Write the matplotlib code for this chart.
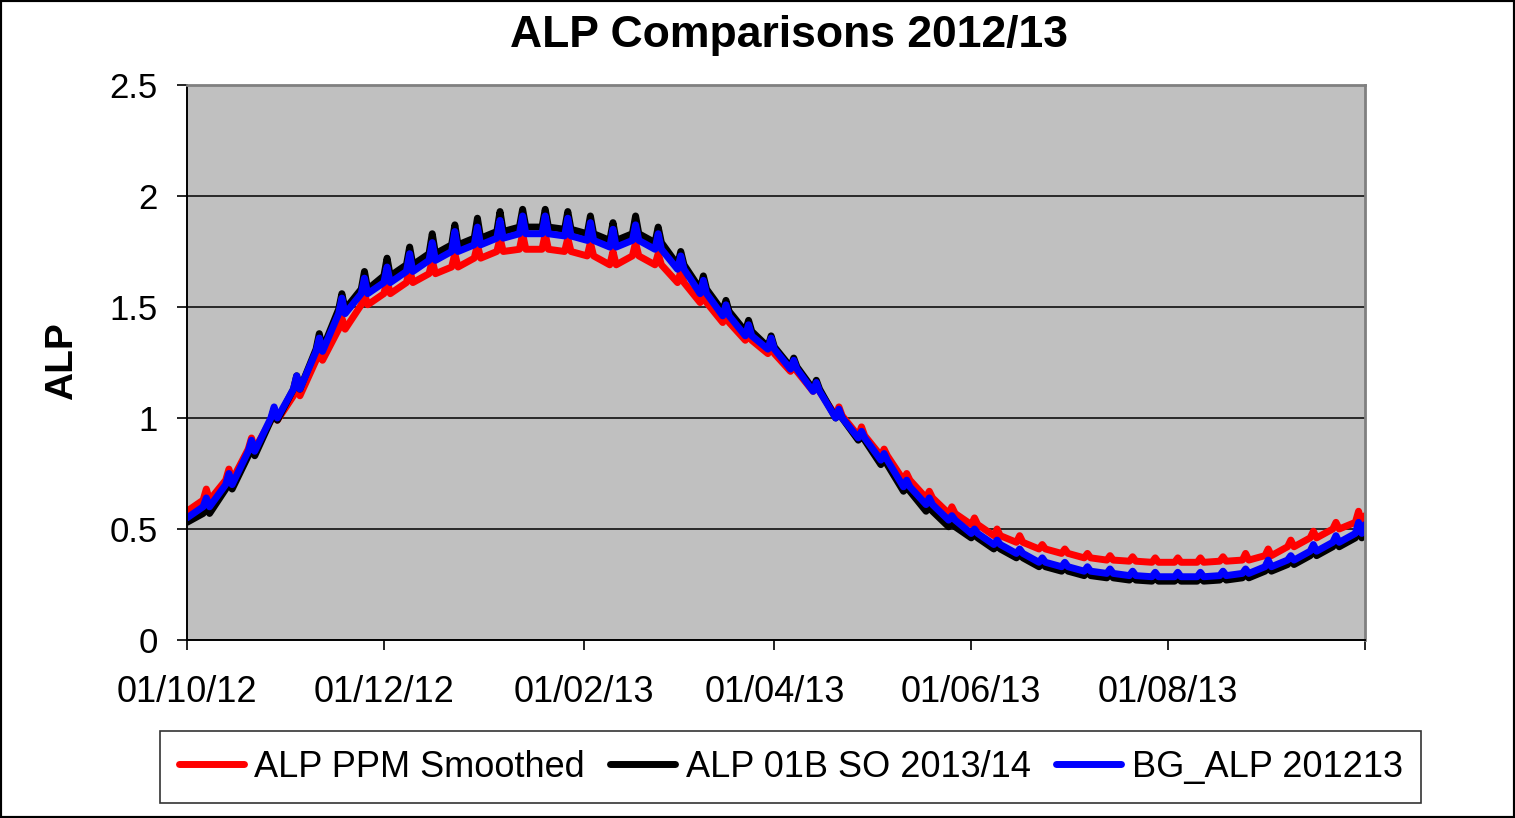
import numpy as np
import pandas as pd
import matplotlib
matplotlib.use("Agg")
import matplotlib.pyplot as plt
from matplotlib.patches import Rectangle

plt.rcParams['font.family'] = ['Liberation Sans', 'DejaVu Sans']

# weekly cycle: base value, then a one-day spike (weekend effect)
week_starts = pd.date_range('2012-10-06', periods=52, freq='7D')
first_day = pd.Timestamp('2012-10-01')
last_day = pd.Timestamp('2013-10-01')

red_base = [0.63, 0.72, 0.86, 0.99, 1.10, 1.26, 1.40, 1.51, 1.56, 1.61,
            1.65, 1.68, 1.72, 1.75, 1.76, 1.76, 1.75, 1.73, 1.69, 1.73,
            1.69, 1.61, 1.52, 1.43, 1.35, 1.29, 1.21, 1.12, 1.01, 0.92,
            0.83, 0.72, 0.64, 0.57, 0.52, 0.47, 0.44, 0.41, 0.39, 0.37,
            0.36, 0.355, 0.35, 0.35, 0.35, 0.355, 0.36, 0.38, 0.42, 0.46,
            0.50, 0.53]
black_base = [0.57, 0.68, 0.83, 0.99, 1.13, 1.31, 1.49, 1.58, 1.64, 1.69,
              1.74, 1.78, 1.81, 1.84, 1.86, 1.86, 1.85, 1.83, 1.80, 1.83,
              1.79, 1.69, 1.58, 1.48, 1.39, 1.32, 1.23, 1.13, 1.00, 0.90,
              0.79, 0.67, 0.58, 0.51, 0.46, 0.41, 0.37, 0.33, 0.31, 0.29,
              0.28, 0.27, 0.265, 0.265, 0.265, 0.27, 0.28, 0.31, 0.34, 0.38,
              0.42, 0.46]
blue_base = [0.60, 0.70, 0.85, 1.00, 1.13, 1.30, 1.47, 1.56, 1.61, 1.66,
             1.71, 1.75, 1.78, 1.81, 1.83, 1.83, 1.82, 1.80, 1.77, 1.80,
             1.76, 1.67, 1.56, 1.46, 1.37, 1.31, 1.22, 1.12, 1.00, 0.91,
             0.81, 0.69, 0.61, 0.54, 0.48, 0.43, 0.39, 0.35, 0.33, 0.31,
             0.30, 0.29, 0.285, 0.285, 0.285, 0.29, 0.30, 0.33, 0.36, 0.40,
             0.44, 0.48]

red_spike = [0.05, 0.05, 0.05, 0.05, 0.05, 0.05, 0.05, 0.05, 0.06, 0.06,
             0.06, 0.06, 0.06, 0.06, 0.07, 0.07, 0.06, 0.06, 0.06, 0.06,
             0.05, 0.05, 0.05, 0.04, 0.04, 0.04, 0.04, 0.04, 0.04, 0.04,
             0.03, 0.03, 0.03, 0.03, 0.03, 0.03, 0.03, 0.02, 0.02, 0.02,
             0.02, 0.02, 0.02, 0.02, 0.02, 0.02, 0.03, 0.03, 0.03, 0.03,
             0.03, 0.05]
black_spike = [0.03, 0.04, 0.04, 0.05, 0.06, 0.07, 0.07, 0.08, 0.08, 0.08,
               0.09, 0.09, 0.09, 0.09, 0.08, 0.08, 0.08, 0.08, 0.08, 0.08,
               0.07, 0.06, 0.06, 0.05, 0.05, 0.05, 0.04, 0.04, 0.03, 0.03,
               0.03, 0.02, 0.02, 0.02, 0.02, 0.02, 0.02, 0.02, 0.02, 0.02,
               0.02, 0.02, 0.02, 0.02, 0.02, 0.02, 0.02, 0.02, 0.02, 0.03,
               0.03, 0.05]
blue_spike = [0.04, 0.05, 0.05, 0.05, 0.06, 0.06, 0.07, 0.07, 0.07, 0.08,
              0.08, 0.09, 0.08, 0.08, 0.08, 0.08, 0.08, 0.08, 0.08, 0.07,
              0.07, 0.06, 0.06, 0.05, 0.05, 0.05, 0.04, 0.04, 0.04, 0.03,
              0.03, 0.03, 0.03, 0.02, 0.02, 0.02, 0.02, 0.02, 0.02, 0.02,
              0.02, 0.02, 0.02, 0.02, 0.02, 0.02, 0.02, 0.03, 0.02, 0.03,
              0.03, 0.05]

# values at the very first and last day
red_ends = (0.58, 0.56)
black_ends = (0.53, 0.51)
blue_ends = (0.55, 0.52)

names = ["ALP PPM Smoothed", "ALP 01B SO 2013/14", "BG_ALP 201213"]
colors = ["#FF0000", "#000000", "#0000FF"]

tick_dates = ['2012-10-01', '2012-12-01', '2013-02-01', '2013-04-01',
              '2013-06-01', '2013-08-01', '2013-10-01']
tick_labels = ['01/10/12', '01/12/12', '01/02/13', '01/04/13',
               '01/06/13', '01/08/13', '']


def build_series(base, spike, ends):
    xs = [first_day]
    ys = [ends[0]]
    for d, b, s in zip(week_starts, base, spike):
        xs += [d, d + pd.Timedelta(days=1), d + pd.Timedelta(days=2)]
        ys += [b, b + s, b]
    xs.append(last_day)
    ys.append(ends[1])
    return xs, ys


fig = plt.figure(figsize=(15.15, 8.18), dpi=100)
ax = fig.add_axes([0.1234, 0.2176, 0.7776, 0.6785])
ax.set_facecolor('#C0C0C0')

series = [(red_base, red_spike, red_ends),
          (black_base, black_spike, black_ends),
          (blue_base, blue_spike, blue_ends)]
handles = []
for (b, s, e), name, c in zip(series, names, colors):
    xs, ys = build_series(b, s, e)
    h, = ax.plot(xs, ys, color=c, lw=5, solid_joinstyle='round',
                 solid_capstyle='round', label=name)
    handles.append(h)

ax.set_xlim(first_day, last_day)
ax.set_ylim(0, 2.5)
ax.set_yticks([0, 0.5, 1, 1.5, 2, 2.5])
ax.set_yticklabels(['0', '0.5', '1', '1.5', '2', '2.5'])
ax.set_xticks(pd.to_datetime(tick_dates))
ax.set_xticklabels(tick_labels)
ax.tick_params(axis='y', direction='out', length=7, width=1.2, pad=14, labelsize=25)
ax.tick_params(axis='x', direction='out', length=7, width=1.2, pad=18, labelsize=26)
ax.yaxis.grid(True, color='black', lw=1.1)
ax.set_axisbelow(True)

for side in ['left', 'bottom']:
    ax.spines[side].set_color('black')
    ax.spines[side].set_linewidth(1.4)
for side in ['top', 'right']:
    ax.spines[side].set_color('#808080')
    ax.spines[side].set_linewidth(2)

fig.text(0.521, 0.957, 'ALP Comparisons 2012/13', ha='center', va='center',
         fontsize=32, fontweight='bold')
fig.text(0.041, 0.559, 'ALP', ha='center', va='center', rotation=90,
         fontsize=28, fontweight='bold')

leg = fig.legend(handles, names, loc='center', bbox_to_anchor=(0.522, 0.0623),
                 ncol=3, fontsize=26, frameon=True, fancybox=False,
                 edgecolor='black', handlelength=1.8, handletextpad=0.3,
                 columnspacing=0.7, borderpad=0.5)
leg.get_frame().set_linewidth(1.2)

fig.patches.append(Rectangle((0, 0), 1, 1, transform=fig.transFigure,
                             fill=False, ec='black', lw=3))

fig.savefig('out.png', dpi=100)
